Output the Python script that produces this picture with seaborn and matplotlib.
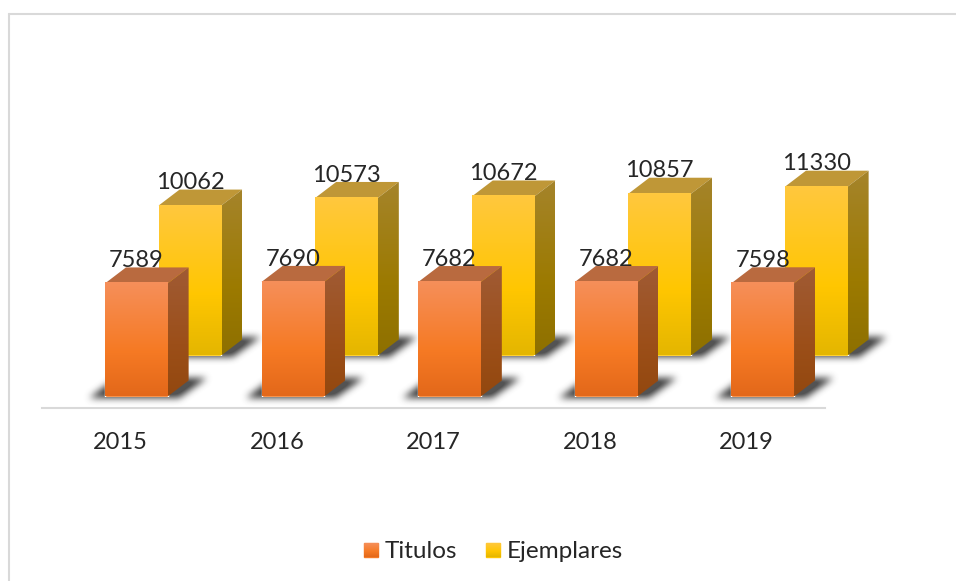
import matplotlib
matplotlib.use("Agg")
import matplotlib.pyplot as plt
import numpy as np
import pandas as pd
import seaborn as sns
from matplotlib.lines import Line2D
from matplotlib.patches import Patch, Polygon
from matplotlib.path import Path

years = ["2015", "2016", "2017", "2018", "2019"]
titulos = [7589, 7690, 7682, 7682, 7598]
ejemplares = [10062, 10573, 10672, 10857, 11330]

W, H = 956, 581
CAT_PX = 156.6  # width of one category band
UNIT_PX = 0.0149  # pixels per value unit
YMAX = 13000
DEPTH_PX = (21, 16)  # how far the bars recede to the right / upwards

ORANGE = {
    "front": [(0, "#F58F5A"), (0.6, "#F67A24"), (1, "#E3681A")],
    "side": [(0, "#A05B35"), (0.6, "#9C4F19"), (1, "#93480F")],
    "top": "#B96A3F",
}
YELLOW = {
    "front": [(0, "#FFC83E"), (0.6, "#FFC600"), (1, "#E4B600")],
    "side": [(0, "#A5842B"), (0.6, "#9C7A00"), (1, "#8E7000")],
    "top": "#BF9737",
}

sns.set_theme(style="white")
plt.rcParams["font.family"] = ["Lato", "DejaVu Sans"]
TEXT = "#262626"

fig = plt.figure(figsize=(W / 100, H / 100), dpi=100, facecolor="white")


def hex_rgb(c):
    return np.array(matplotlib.colors.to_rgb(c))


def gradient(stops, n=128):
    pos = [s[0] for s in stops]
    cols = np.array([hex_rgb(s[1]) for s in stops])
    t = np.linspace(0, 1, n)
    return np.stack([np.interp(t, pos, cols[:, i]) for i in range(3)], axis=1)[:, None, :]


def make_axes(left_px, base_px):
    # base_px is measured from the top of the picture
    return fig.add_axes([left_px / W, (H - base_px) / H, CAT_PX * 5 / W, YMAX * UNIT_PX / H])


def draw_series(ax, values, style):
    df = pd.DataFrame({"year": years, "value": values})
    sns.barplot(data=df, x="year", y="value", color=style["front"][1][1], width=0.4,
                saturation=1, ax=ax)
    ax.set_xlim(-0.5, 4.5)
    ax.set_ylim(0, YMAX)
    ax.set_autoscale_on(False)
    dx, dy = DEPTH_PX[0] / CAT_PX, DEPTH_PX[1] / UNIT_PX
    for bar, v in zip(list(ax.patches), values):
        x0, x1 = bar.get_x(), bar.get_x() + bar.get_width()
        ax.add_patch(Polygon([(x0, v), (x1, v), (x1 + dx, v + dy), (x0 + dx, v + dy)],
                             color=style["top"], lw=0, clip_on=False, zorder=3))
        side = Polygon([(x1, 0), (x1 + dx, dy), (x1 + dx, v + dy), (x1, v)],
                       transform=ax.transData)
        im = ax.imshow(gradient(style["side"]), extent=(x1, x1 + dx, 0, v + dy),
                       aspect="auto", zorder=3)
        im.set_clip_path(side)
        im = ax.imshow(gradient(style["front"]), extent=(x0, x1, 0, v),
                       aspect="auto", zorder=4, clip_on=False)
        ax.annotate(str(v), xy=((x0 + x1) / 2, v), xytext=(0, 16.5), textcoords="offset points",
                    ha="center", va="center", fontsize=17, color=TEXT, zorder=6,
                    annotation_clip=False)
    ax.axis("off")


def box_blur(a, r):
    kernel = np.ones(2 * r + 1) / (2 * r + 1)
    for _ in range(3):
        a = np.apply_along_axis(lambda m: np.convolve(m, kernel, mode="same"), 0, a)
        a = np.apply_along_axis(lambda m: np.convolve(m, kernel, mode="same"), 1, a)
    return a


def ground_shadows(axes_list):
    # soft parallelogram on the floor under each bar, worked out from the bars themselves
    yy, xx = np.mgrid[0:H, 0:W]
    pts = np.column_stack([xx.ravel() + 0.5, yy.ravel() + 0.5])
    mask = np.zeros(H * W, dtype=bool)
    for ax, bars in axes_list:
        for bar in bars:
            ext = bar.get_window_extent()
            x0, x1, bot = ext.x0, ext.x1, H - ext.y0
            poly = Path([(x0 - 15, bot + 1), (x0 + 12, bot - 19), (x1 + 40, bot - 19),
                         (x1 + 12, bot + 1), (x0 - 15, bot + 1)])
            mask |= poly.contains_points(pts)
    alpha = np.clip(box_blur(mask.reshape(H, W).astype(float), 3) * 1.05, 0, 0.9)
    rgba = np.zeros((H, W, 4))
    rgba[..., :3] = 0.25
    rgba[..., 3] = alpha
    fig.figimage(rgba, origin="upper", zorder=-1)


# floor line and year labels
ax_base = fig.add_axes([42 / W, (H - 408) / H, CAT_PX * 5 / W, 0.01])
ax_base.set_xlim(-0.5, 4.5)
ax_base.set_xticks(range(len(years)), years, fontsize=17, color=TEXT)
ax_base.set_yticks([])
ax_base.tick_params(axis="x", length=0, pad=17)
ax_base.patch.set_visible(False)
sns.despine(ax=ax_base, left=True)
ax_base.spines["bottom"].set_color("#D9D9D9")
ax_base.spines["bottom"].set_linewidth(1.5)

ax_back = make_axes(42 + 16.6 + 53, 355.5)
ax_front = make_axes(42 + 16, 396.5)
ax_back.set_zorder(1)
ax_front.set_zorder(2)
draw_series(ax_back, ejemplares, YELLOW)
draw_series(ax_front, titulos, ORANGE)
ground_shadows([(ax_back, ax_back.patches[:5]), (ax_front, ax_front.patches[:5])])

# chart frame, only the top and left edges are inside the picture
fig.add_artist(Line2D([9 / W, 9 / W], [0, 1 - 14 / H], color="#D9D9D9", lw=1.5))
fig.add_artist(Line2D([9 / W, 1], [1 - 14 / H, 1 - 14 / H], color="#D9D9D9", lw=1.5))

handles = [Patch(color=ORANGE["front"][1][1], label="Titulos"),
           Patch(color=YELLOW["front"][1][1], label="Ejemplares")]
leg = fig.legend(handles=handles, loc="center", bbox_to_anchor=(493.5 / W, 1 - 552 / H), ncol=2,
                 frameon=False, fontsize=17.5, labelcolor=TEXT, handlelength=0.58, handleheight=0.5,
                 handletextpad=0.25, columnspacing=1.2)

# gradient on the legend swatches
fig.canvas.draw()
for patch, style in zip(leg.get_patches(), [ORANGE, YELLOW]):
    ext = patch.get_window_extent()
    cax = fig.add_axes([ext.x0 / W, ext.y0 / H, ext.width / W, ext.height / H], zorder=7)
    cax.imshow(gradient(style["front"]), aspect="auto")
    cax.axis("off")

fig.savefig("out.png", dpi=100)
